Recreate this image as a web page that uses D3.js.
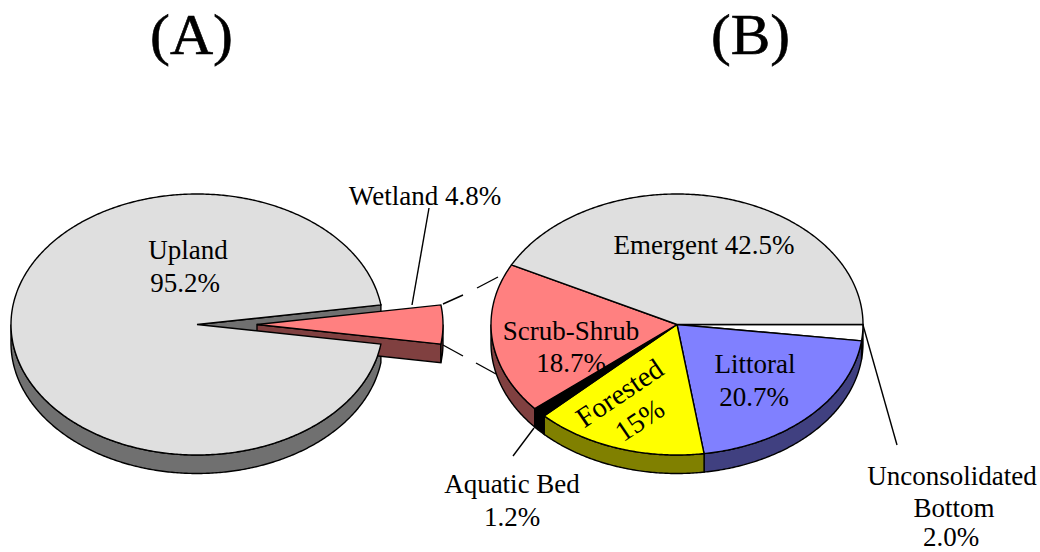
<!DOCTYPE html>
<html lang="en">
<head>
  <meta charset="UTF-8">
  <title>Upland and wetland pies</title>
  <script src="https://d3js.org/d3.v7.min.js"></script>
  <style>
    html, body { margin: 0; background: #fff; }
    text { font-family: "Liberation Serif", serif; fill: #000; font-size: 27px; }
    .edge { stroke: #000; stroke-width: 1.4; stroke-linejoin: miter; }
    .lead { stroke: #000; stroke-width: 1.4; fill: none; }
  </style>
</head>
<body>
  <svg id="svg" width="1040" height="552"></svg>
  <script>
    var categoriesA = ['Wetland', 'Upland']
    var valuesA = [4.8, 95.2]
    var topColorsA = ['#ff8080', '#dfdfdf']
    var sideColorsA = ['#804040', '#707070']

    var categoriesB = ['Unconsolidated Bottom', 'Littoral', 'Forested', 'Aquatic Bed', 'Scrub-Shrub', 'Emergent']
    var valuesB = [2.0, 20.7, 15, 1.2, 18.7, 42.5]
    var topColorsB = ['#ffffff', '#8080ff', '#ffff00', '#000000', '#ff8080', '#dfdfdf']
    var sideColorsB = ['#808080', '#404080', '#808000', '#000000', '#804040', '#707070']

    var rx = 186, ry = 130.5, depth = 18.5, explode = 60
    var centerA = [197, 324.5], centerB = [677, 324.5]

    var svg = d3.select('#svg')
    var line = d3.line()

    // pie angles, d3 counts from 12 o'clock clockwise
    function slices(values, start) {
      return d3.pie().sort(null).startAngle(start).endAngle(start + 2 * Math.PI)(values)
    }
    var piesA = slices(valuesA, Math.PI / 2 - valuesA[0] / d3.sum(valuesA) * Math.PI)
    var piesB = slices(valuesB, Math.PI / 2)

    function pt(a) {
      return [rx * Math.sin(a), -ry * Math.cos(a)]
    }

    function arcPoints(a0, a1) {
      var n = Math.ceil((a1 - a0) / 0.01)
      return d3.range(n + 1).map(function (i) { return pt(a0 + (a1 - a0) * i / n) })
    }

    function topPath(d) {
      return line([[0, 0]].concat(arcPoints(d.startAngle, d.endAngle))) + 'Z'
    }

    // outside wall of the slice, only the part facing the viewer
    function rimPath(d) {
      var a0 = Math.max(d.startAngle, Math.PI / 2)
      var a1 = Math.min(d.endAngle, 3 * Math.PI / 2)
      if (a1 <= a0) return null
      var upper = arcPoints(a0, a1)
      var lower = upper.map(function (p) { return [p[0], p[1] + depth] }).reverse()
      return line(upper.concat(lower)) + 'Z'
    }

    // flat wall along one cut edge of a slice
    function cutPath(a) {
      var p = pt(a)
      return line([[0, 0], p, [p[0], p[1] + depth], [0, depth]]) + 'Z'
    }

    function face(g, path, fill) {
      if (path) g.append('path').attr('d', path).attr('fill', fill).attr('class', 'edge')
    }

    // pie A, the wetland wedge pulled out to the right
    var gA = svg.append('g').attr('transform', 'translate(' + centerA + ')')
    face(gA, rimPath(piesA[1]), sideColorsA[1])
    face(gA, cutPath(piesA[1].endAngle), sideColorsA[1])
    var gWet = gA.append('g').attr('transform', 'translate(' + explode + ',0)')
    face(gWet, cutPath(piesA[0].endAngle), sideColorsA[0])
    face(gWet, rimPath(piesA[0]), sideColorsA[0])
    face(gWet, topPath(piesA[0]), topColorsA[0])
    face(gA, topPath(piesA[1]), topColorsA[1])

    // pie B
    var gB = svg.append('g').attr('transform', 'translate(' + centerB + ')')
    piesB.forEach(function (d, i) { face(gB, rimPath(d), sideColorsB[i]) })
    piesB.forEach(function (d, i) { face(gB, topPath(d), topColorsB[i]) })

    // leader lines
    var leaders = [
      [[429, 208], [412, 305]],
      [[443, 304], [463, 295]],
      [[477, 288], [498, 277]],
      [[443, 345], [463, 356]],
      [[476, 363], [496, 374]],
      [[534, 428], [513, 456]],
      [[863, 325], [897, 445]]
    ]
    svg.selectAll('.lead').data(leaders).enter().append('line')
      .attr('class', 'lead')
      .attr('x1', function (d) { return d[0][0] })
      .attr('y1', function (d) { return d[0][1] })
      .attr('x2', function (d) { return d[1][0] })
      .attr('y2', function (d) { return d[1][1] })

    var labels = [
      ['Upland', 188, 259], ['95.2%', 185, 292],
      ['Wetland 4.8%', 425, 205],
      ['Emergent 42.5%', 704, 254],
      ['Scrub-Shrub', 571, 340], ['18.7%', 571, 372],
      ['Littoral', 755, 373], ['20.7%', 754, 406],
      ['Aquatic Bed', 512, 493], ['1.2%', 512, 526],
      ['Unconsolidated', 952, 485], ['Bottom', 954, 517], ['2.0%', 951, 546]
    ]
    svg.selectAll('.lab').data(labels).enter().append('text')
      .attr('class', 'lab')
      .attr('text-anchor', 'middle')
      .attr('x', function (d) { return d[1] })
      .attr('y', function (d) { return d[2] })
      .text(function (d) { return d[0] })

    var rotated = [['Forested', 625, 401], ['15%', 645, 428]]
    svg.selectAll('.rot').data(rotated).enter().append('text')
      .attr('class', 'rot')
      .attr('text-anchor', 'middle')
      .attr('transform', function (d) { return 'translate(' + d[1] + ',' + d[2] + ') rotate(-34)' })
      .style('font-size', '28.5px')
      .text(function (d) { return d[0] })

    var titles = [['(A)', 191.5, 54, 83], ['(B)', 750.5, 54, 79]]
    svg.selectAll('.title').data(titles).enter().append('text')
      .attr('class', 'title')
      .attr('text-anchor', 'middle')
      .attr('x', function (d) { return d[1] })
      .attr('y', function (d) { return d[2] })
      .attr('textLength', function (d) { return d[3] })
      .attr('lengthAdjust', 'spacingAndGlyphs')
      .style('font-size', '57px')
      .style('stroke', '#000')
      .style('stroke-width', 0.6)
      .text(function (d) { return d[0] })
  </script>
</body>
</html>
